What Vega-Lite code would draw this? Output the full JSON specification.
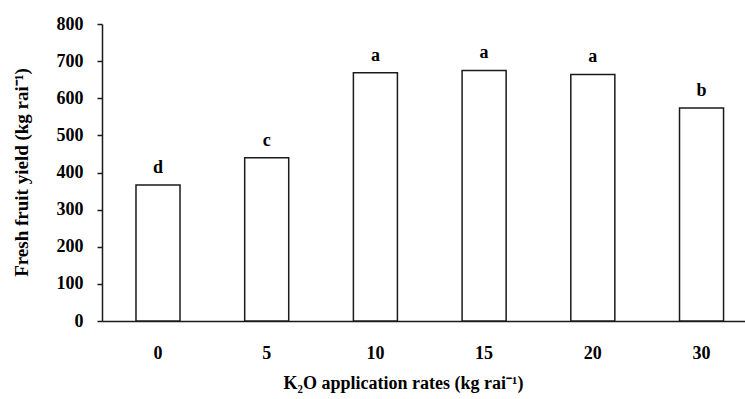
{
  "$schema": "https://vega.github.io/schema/vega-lite/v6.json",
  "autosize": "none",
  "padding": {"left": 102, "top": 24, "right": 0, "bottom": 78},
  "width": 643,
  "height": 297,
  "background": "white",
  "data": {
    "values": [
      {"rate": "0", "yield": 366, "group": "d"},
      {"rate": "5", "yield": 440, "group": "c"},
      {"rate": "10", "yield": 669, "group": "a"},
      {"rate": "15", "yield": 675, "group": "a"},
      {"rate": "20", "yield": 664, "group": "a"},
      {"rate": "30", "yield": 574, "group": "b"}
    ]
  },
  "config": {
    "view": {"stroke": null},
    "font": "Liberation Serif",
    "axis": {
      "grid": false,
      "domainColor": "#1a1a1a",
      "domainWidth": 1.5,
      "tickColor": "#1a1a1a",
      "tickWidth": 1.5,
      "labelFont": "Liberation Serif",
      "labelFontWeight": "bold",
      "labelFontSize": 18,
      "labelColor": "black",
      "titleFont": "Liberation Serif",
      "titleFontWeight": "bold",
      "titleColor": "black"
    }
  },
  "encoding": {
    "x": {
      "field": "rate",
      "type": "ordinal",
      "sort": null,
      "scale": {"paddingInner": 0.595, "paddingOuter": 0.255, "align": 0.613},
      "axis": {
        "title": "K₂O application rates (kg rai⁻¹)",
        "labelAngle": 0,
        "ticks": false,
        "labelPadding": 23,
        "titleFontSize": 18,
        "titleX": 301,
        "titleY": 62,
        "titleAlign": "center",
        "titleBaseline": "middle"
      }
    },
    "y": {
      "field": "yield",
      "type": "quantitative",
      "scale": {"domain": [0, 800], "nice": false},
      "axis": {
        "title": "Fresh fruit yield (kg rai⁻¹)",
        "values": [0, 100, 200, 300, 400, 500, 600, 700, 800],
        "tickSize": 5,
        "labelPadding": 14,
        "titleFontSize": 19,
        "titleAngle": -90,
        "titleX": -81,
        "titleY": 148,
        "titleAlign": "center",
        "titleBaseline": "middle"
      }
    }
  },
  "layer": [
    {
      "mark": {"type": "bar", "fill": "white", "stroke": "#1a1a1a", "strokeWidth": 1.5}
    },
    {
      "mark": {
        "type": "text",
        "font": "Liberation Serif",
        "fontWeight": "bold",
        "fontSize": 18,
        "baseline": "alphabetic",
        "dy": -12,
        "color": "black"
      },
      "encoding": {"text": {"field": "group"}}
    }
  ]
}
